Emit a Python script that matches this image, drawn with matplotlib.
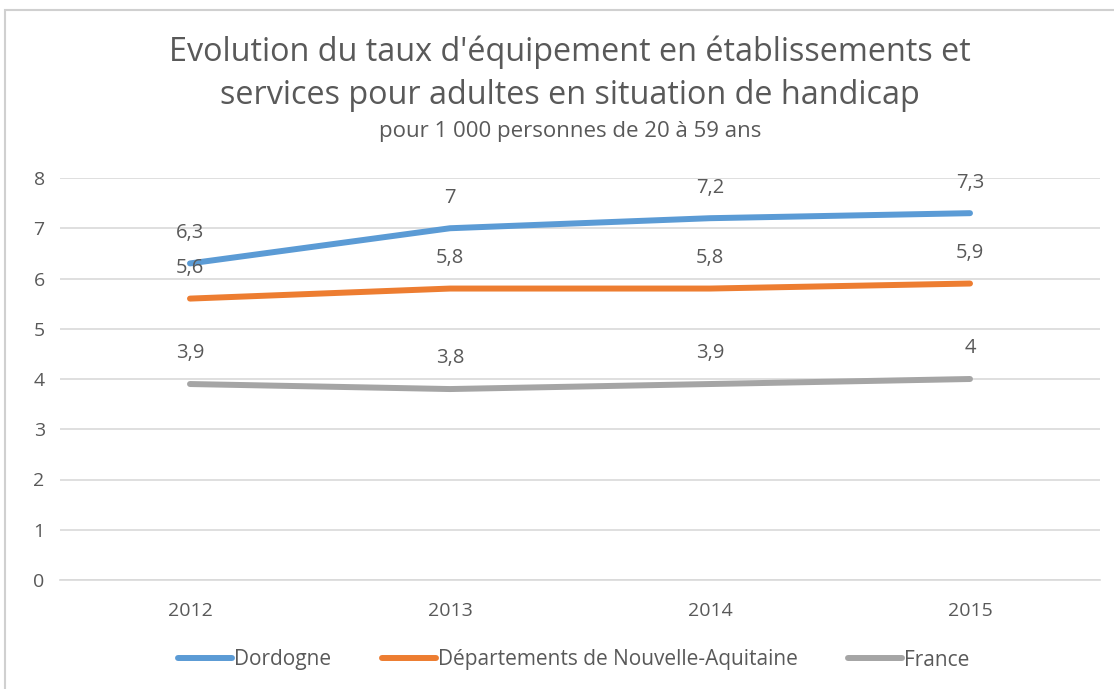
import matplotlib.pyplot as plt
from matplotlib.patches import Rectangle

# data
years = ['2012', '2013', '2014', '2015']
dordogne = [6.3, 7.0, 7.2, 7.3]
nouvelle_aquitaine = [5.6, 5.8, 5.8, 5.9]
france = [3.9, 3.8, 3.9, 4.0]
labels = ['Dordogne', 'Départements de Nouvelle-Aquitaine', 'France']
colors = ['#5B9BD5', '#ED7D31', '#A5A5A5']

plt.rcParams['font.family'] = ['Open Sans', 'DejaVu Sans']
txt = '#595959'

fig = plt.figure(figsize=(11.14, 6.89), dpi=100)
ax = fig.add_axes([60 / 1114, 1 - 580 / 689, 1040 / 1114, 402 / 689])

# chart border
fig.patches.append(Rectangle((5 / 1114, -0.01), 1.1, 1 - 10 / 689 + 0.01,
                             transform=fig.transFigure, fill=False,
                             edgecolor='#D0D0D0', linewidth=1.5))

x = range(len(years))
for series, lab, col in zip([dordogne, nouvelle_aquitaine, france], labels, colors):
    ax.plot(x, series, color=col, linewidth=4.3, solid_capstyle='round', label=lab)
    for xi, v in zip(x, series):
        s = ('%g' % v).replace('.', ',')
        ax.annotate(s, (xi, v), xytext=(0, 22), textcoords='offset points',
                    ha='center', va='center', fontsize=14.5, color=txt)

ax.set_xlim(-0.5, 3.5)
ax.set_ylim(0, 8)
ax.set_yticks(range(9))
ax.set_xticks(list(x))
ax.set_xticklabels(years)
ax.grid(axis='y', color='#D9D9D9', linewidth=1.2)
ax.set_axisbelow(True)
for sp in ['top', 'right', 'left']:
    ax.spines[sp].set_visible(False)
ax.spines['bottom'].set_color('#D9D9D9')
ax.spines['bottom'].set_linewidth(1.2)
ax.tick_params(length=0, labelsize=14, labelcolor=txt)
ax.tick_params(axis='x', pad=16)
ax.tick_params(axis='y', pad=11)

fig.text(0.512, 1 - 52 / 689, "Evolution du taux d'équipement en établissements et",
         ha='center', va='center', fontsize=23.3, color=txt)
fig.text(0.512, 1 - 96 / 689, "services pour adultes en situation de handicap",
         ha='center', va='center', fontsize=23.3, color=txt)
fig.text(0.512, 1 - 131 / 689, "pour 1 000 personnes de 20 à 59 ans",
         ha='center', va='center', fontsize=16, color=txt)

fig.legend(loc='center', bbox_to_anchor=(0.515, 1 - 660 / 689), ncol=3,
           frameon=False, fontsize=15, labelcolor=txt, handlelength=2.6,
           handletextpad=0.1, columnspacing=2.4)

fig.savefig('out.png', dpi=100)
